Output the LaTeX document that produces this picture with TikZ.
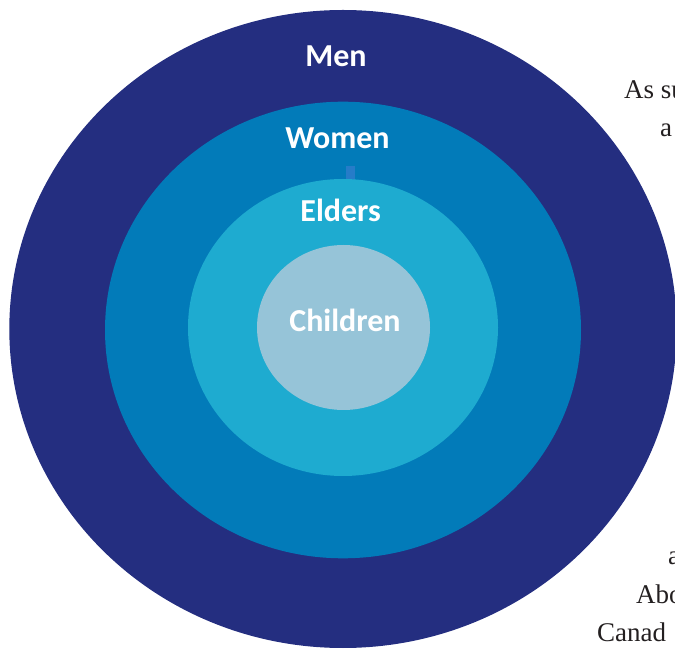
\documentclass[tikz,border=0pt]{standalone}
\usepackage{fontspec}
\usepackage{tikz}
\usetikzlibrary{shapes.geometric}
\newfontfamily\ringfont{Carlito}
\newfontfamily\pagefont{Liberation Serif}
\definecolor{menblue}{RGB}{36,46,128}
\definecolor{womenblue}{RGB}{2,123,185}
\definecolor{elderblue}{RGB}{30,171,208}
\definecolor{childblue}{RGB}{150,196,216}
\definecolor{tickblue}{RGB}{38,124,200}
\definecolor{pagetext}{RGB}{35,31,32}

\begin{document}
\begin{tikzpicture}[x=1pt,y=1pt,
    ring/.style={ellipse, draw=none, inner sep=0pt, outer sep=0pt},
    lbl/.style={anchor=base, text=white, inner sep=0pt, font=\ringfont\bfseries\fontsize{32}{38}\selectfont},
    body/.style={anchor=base west, text=pagetext, inner sep=0pt, font=\pagefont\fontsize{27}{38}\selectfont}]
            \useasboundingbox (0,0) rectangle (675,651);
            \clip (0,0) rectangle (675,651);
            % page text behind the figure
            \node[body] (t1) at (624,552) {As su};
            \node[body] (t2) at (660,514) {a};
            \node[body] (t3) at (668,86) {a};
            \node[body] (t4) at (636,48) {Abo};
            \node[body] (t5) at (597,10) {Canad};
            % rings
            \node[ring, fill=menblue, minimum width=667.4pt, minimum height=638pt] (men) at (343,322) {};
            \node[ring, fill=womenblue, minimum width=476pt, minimum height=456.6pt] (women) at (343,321) {};
            \fill[tickblue] (346,471) rectangle (355,485);
            \node[ring, fill=elderblue, minimum width=310pt, minimum height=297pt] (elders) at (343,323.5) {};
            \node[ring, fill=childblue, minimum width=173pt, minimum height=165pt] (children) at (343.5,323.5) {};
            % labels
            \node[lbl] (menlbl) at (336,584) {Men};
            \node[lbl] (womenlbl) at (337.5,502) {Women};
            \node[lbl] (elderslbl) at (340.7,429) {Elders};
            \node[lbl] (childrenlbl) at (345,319) {Children};
        \end{tikzpicture}
\end{document}
